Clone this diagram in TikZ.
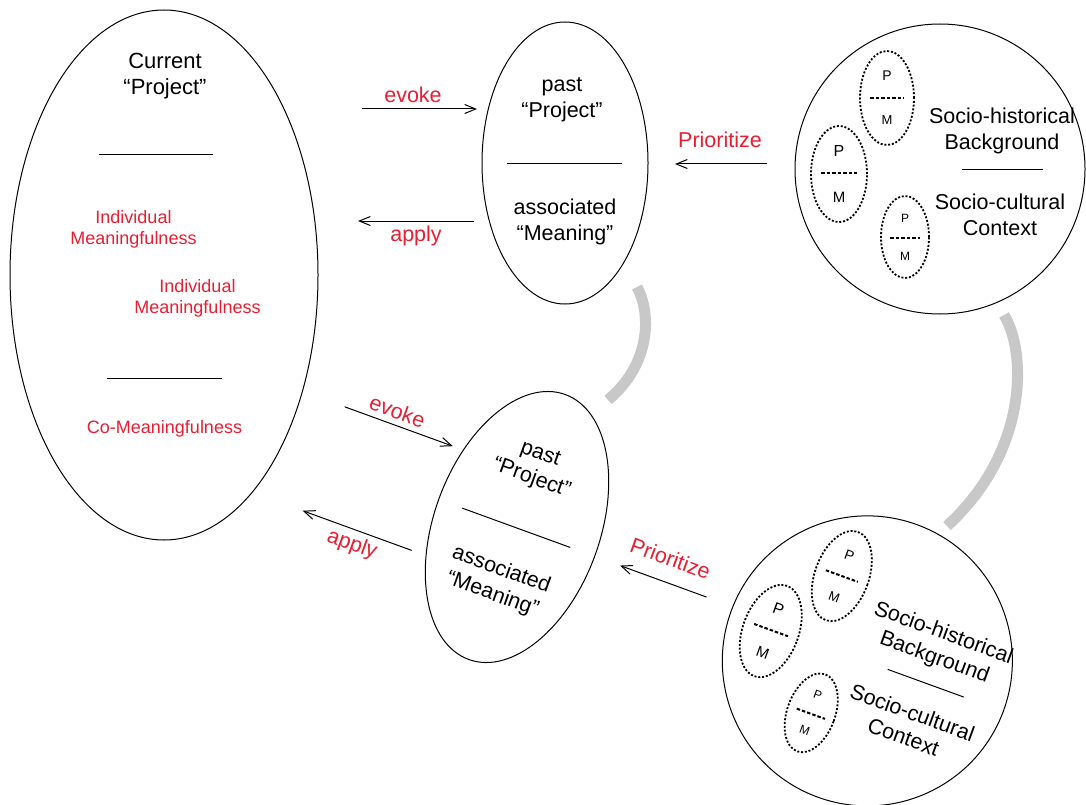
\documentclass[tikz,border=0pt]{standalone}
\usepackage{fontspec}
\setmainfont{Liberation Sans}
\usetikzlibrary{shapes.geometric,arrows.meta}
\definecolor{lblred}{RGB}{232,30,50}
\definecolor{arcgray}{RGB}{200,200,200}
\tikzset{
  outl/.style={draw=black, line width=1pt, inner sep=0pt},
  dotell/.style={draw=black, line width=1.8pt, dash pattern=on 2pt off 1.8pt, ellipse, inner sep=0pt},
  arr/.style={line width=1pt, -{Straight Barb[length=11pt,width=9pt,line width=1pt]}},
  divider/.style={line width=1pt},
  pmdiv/.style={line width=2pt, dash pattern=on 3.5pt off 2pt},
  bigtxt/.style={font=\fontsize{21.5}{26}\selectfont, align=center, inner sep=0pt},
  redtxt/.style={bigtxt, text=lblred},
  smalred/.style={font=\fontsize{18}{21}\selectfont, align=center, text=lblred, inner sep=0pt},
  pmtxt/.style={inner sep=0pt},
  grayarc/.style={draw=arcgray, line width=11pt},
}
\newcommand{\pmset}[8]{% prefix, x, y, rx2, ry2, P font, M font, P/M offset
  \node[dotell, minimum width=#4, minimum height=#5] (#1) at (#2,#3) {};
  \node[pmtxt, font=\fontsize{#6}{#6}\selectfont] (#1p) at ([yshift=#8]#1.center) {P};
  \node[pmtxt, font=\fontsize{#7}{#7}\selectfont] (#1m) at ([yshift=-#8]#1.center) {M};
}
\newcommand{\mgroup}[1]{%
  \node[outl, ellipse, minimum width=166pt, minimum height=282pt] (#1mid) at (0,0) {};
  \node[bigtxt] (#1past) at (-3,-63) {past\\“Project”};
  \coordinate (#1dl) at (-58,1);
  \coordinate (#1dr) at (57,1);
  \draw[divider] (#1dl) -- (#1dr);
  \node[bigtxt] (#1assoc) at (0,59) {associated\\“Meaning”};
  \coordinate (#1es) at (-203,-54);
  \coordinate (#1ee) at (-88,-54);
  \draw[arr] (#1es) -- (#1ee);
  \node[redtxt] (#1evoke) at (-152,-68) {evoke};
  \coordinate (#1as) at (-91,58);
  \coordinate (#1ae) at (-207,58);
  \draw[arr] (#1as) -- (#1ae);
  \node[redtxt] (#1apply) at (-149,73) {apply};
  \coordinate (#1ps) at (202,1);
  \coordinate (#1pe) at (110,1);
  \draw[arr] (#1ps) -- (#1pe);
  \node[redtxt] (#1prio) at (155,-23) {Prioritize};
  \node[outl, circle, minimum size=290pt] (#1circ) at (375,6) {};
  \begin{scope}[shift={(375,6)}]
    \pmset{#1ea}{-53}{-71}{54pt}{94pt}{14}{13}{22pt}
    \coordinate (#1eal) at (-70,-71);
    \coordinate (#1ear) at (-36,-71);
    \draw[pmdiv] (#1eal) -- (#1ear);
    \pmset{#1eb}{-101}{5}{56pt}{96pt}{16}{15}{23pt}
    \coordinate (#1ebl) at (-119,4);
    \coordinate (#1ebr) at (-83,4);
    \draw[pmdiv] (#1ebl) -- (#1ebr);
    \pmset{#1ec}{-35}{68}{48pt}{82pt}{12}{12}{19pt}
    \coordinate (#1ecl) at (-50,69);
    \coordinate (#1ecr) at (-20,69);
    \draw[pmdiv] (#1ecl) -- (#1ecr);
    \node[bigtxt] (#1shb) at (62,-38.5) {Socio-historical\\Background};
    \coordinate (#1sl) at (22,1);
    \coordinate (#1sr) at (103,1);
    \draw[divider] (#1sl) -- (#1sr);
    \node[bigtxt] (#1scc) at (60,46) {Socio-cultural\\Context};
  \end{scope}
}
\begin{document}
\begin{tikzpicture}[x=1pt,y=-1pt]
\useasboundingbox (0,0) rectangle (1086,805);
% current project
\node[outl, ellipse, minimum width=308pt, minimum height=530pt] (cur) at (164,275) {};
\node[bigtxt, font=\fontsize{22}{26}\selectfont] (curtxt) at (165,76) {Current\\“Project”};
\coordinate (cl1a) at (99,155);
\coordinate (cl1b) at (213,155);
\draw[divider] (cl1a) -- (cl1b);
\node[smalred] (im1) at (133.5,229) {Individual\\Meaningfulness};
\node[smalred] (im2) at (197.5,298) {Individual\\Meaningfulness};
\coordinate (cl2a) at (107,378);
\coordinate (cl2b) at (222,378);
\draw[divider] (cl2a) -- (cl2b);
\node[smalred] (comean) at (164.5,429) {Co-Meaningfulness};
% groups
\begin{scope}[shift={(565,163)}]
  \mgroup{t}
\end{scope}
\begin{scope}[shift={(517,527)}, rotate=-20, transform shape]
  \mgroup{b}
\end{scope}
% gray connecting arcs
\coordinate (g1a) at (637,287);
\coordinate (g1b) at (608,400);
\draw[grayarc] (g1a) .. controls (652,315) and (650,365) .. (g1b);
\coordinate (g2a) at (1004,315);
\coordinate (g2b) at (947,526);
\draw[grayarc] (g2a) .. controls (1026,350) and (1030,450) .. (g2b);
\end{tikzpicture}
\end{document}
